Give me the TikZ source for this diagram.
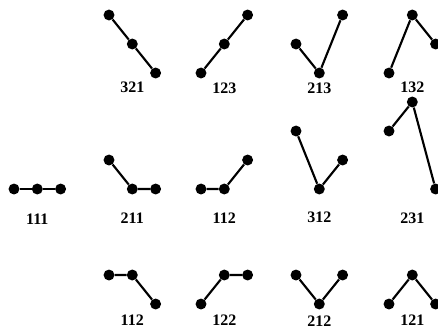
\documentclass[tikz,border=0pt]{standalone}
\usepackage{fontspec}
\setmainfont{Liberation Serif}
\usetikzlibrary{positioning}
\tikzset{
  dot/.style={circle, fill=black, inner sep=0pt, minimum size=8.2pt},
  link/.style={line width=1.6pt, draw=black},
  word/.style={font=\fontsize{12}{13}\selectfont\bfseries, inner sep=0pt}
}
\begin{document}
\begin{tikzpicture}[x=0.75pt,y=-0.75pt]
  \useasboundingbox (0,0) rectangle (438,330);
  % id / first x / base of level 1 / three heights / label y / label
  \foreach \id/\x/\base/\a/\b/\c/\ly/\txt in {
      ra/109/73/3/2/1/87/321, rb/201/73/1/2/3/88/123,
      rc/296/73/2/1/3/88/213, rd/389/73/1/3/2/87/132,
      sa/14/189/1/1/1/219/111, sb/109/189/2/1/1/218/211,
      sc/201/189/1/1/2/218/112, sd/296/189/3/1/2/217/312,
      se/389/189/3/4/1/218/231,
      ta/109/304/2/2/1/320/112, tb/201/304/1/2/2/320/122,
      tc/296/304/2/1/2/321/212, td/389/304/1/2/1/320/121} {
    \node[dot] (\id-1) at (\x,{\base-29*(\a-1)}) {};
    \node[dot] (\id-2) at ({\x+23.3},{\base-29*(\b-1)}) {};
    \node[dot] (\id-3) at ({\x+46.6},{\base-29*(\c-1)}) {};
    \draw[link] (\id-1) -- (\id-2) -- (\id-3);
    \node[word] (\id-t) at ({\x+23.3},\ly) {\txt};
  }
\end{tikzpicture}
\end{document}
